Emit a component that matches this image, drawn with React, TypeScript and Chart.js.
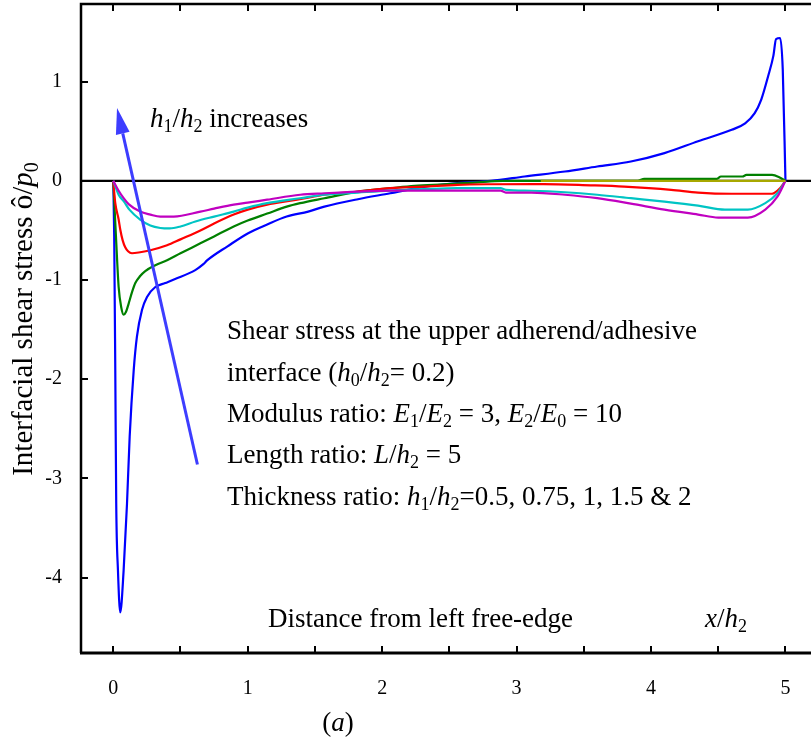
import React, { useEffect, useRef } from "react";
import { Chart, registerables } from "chart.js";

Chart.register(...registerables);

// Axis ranges (x = x/h2, y = shear stress ratio)
const X_RANGE = [-0.24, 5.19];
const Y_RANGE = [-4.76, 1.783];

// Tick values
const xTickLabels = [0, 1, 2, 3, 4, 5];
const xTickMarks = [0, 0.5, 1, 1.5, 2, 2.5, 3, 3.5, 4, 4.5, 5];
const yTickLabels = [1, 0, -1, -2, -3, -4];

// Thickness ratios h1/h2
const thicknessRatios = ["0.5", "0.75", "1", "1.5", "2"];
const seriesColors = ["#0000ff", "#008000", "#ff0000", "#00c4c4", "#c000c0"];

// Shear stress along the bond line, one list per h1/h2
const stressH050: [number, number][] = [
  [0, 0], [0.007, -0.56], [0.015, -1.91], [0.022, -3.25], [0.035, -3.93], [0.052, -4.35],
  [0.077, -3.93], [0.102, -3.26], [0.122, -2.58], [0.152, -1.91], [0.176, -1.57],
  [0.214, -1.3], [0.251, -1.17], [0.313, -1.07], [0.387, -1.03], [0.46, -0.99],
  [0.61, -0.9], [0.67, -0.84], [0.7, -0.8], [0.85, -0.66], [1.0, -0.53], [1.145, -0.44],
  [1.29, -0.36], [1.45, -0.31], [1.57, -0.26], [1.82, -0.185], [2.06, -0.125],
  [2.31, -0.06], [2.56, -0.023], [2.81, 0], [3.06, 0.044], [3.36, 0.094], [3.6, 0.145],
  [3.85, 0.195], [4.1, 0.28], [4.35, 0.4], [4.6, 0.515], [4.7, 0.58], [4.77, 0.68],
  [4.82, 0.82], [4.87, 1.05], [4.91, 1.26], [4.93, 1.43], [4.96, 1.44], [4.98, 1.12], [5.0, 0],
];
const stressH075: [number, number][] = [
  [0, 0], [0.02, -0.56], [0.04, -1.07], [0.06, -1.28], [0.077, -1.35], [0.095, -1.32],
  [0.114, -1.24], [0.14, -1.12], [0.164, -1.03], [0.2, -0.96], [0.238, -0.91],
  [0.313, -0.85], [0.4, -0.8], [0.5, -0.73], [0.648, -0.63], [0.75, -0.56], [0.896, -0.46],
  [1.0, -0.4], [1.145, -0.33], [1.29, -0.26], [1.39, -0.225], [1.57, -0.175],
  [1.82, -0.108], [2.06, -0.074], [2.24, -0.05], [2.46, -0.034], [2.68, -0.017],
  [2.9, 0], [3.9, 0], [3.95, 0.02], [4.49, 0.02], [4.52, 0.044], [4.68, 0.044],
  [4.71, 0.06], [4.9, 0.06], [4.95, 0.04], [5.0, 0],
];
const stressH100: [number, number][] = [
  [0, 0], [0.015, -0.225], [0.04, -0.39], [0.052, -0.49], [0.07, -0.6], [0.089, -0.67],
  [0.11, -0.71], [0.139, -0.73], [0.2, -0.72], [0.276, -0.7], [0.4, -0.65], [0.5, -0.59],
  [0.648, -0.5], [0.75, -0.43], [0.896, -0.34], [1.0, -0.29], [1.145, -0.24], [1.32, -0.2],
  [1.45, -0.17], [1.57, -0.14], [1.82, -0.108], [2.06, -0.074], [2.31, -0.058],
  [2.56, -0.04], [2.81, -0.034], [3.2, -0.032], [3.55, -0.045], [3.8, -0.058],
  [4.15, -0.09], [4.35, -0.118], [4.6, -0.13], [4.9, -0.13], [4.96, -0.074], [5.0, 0],
];
const stressH150: [number, number][] = [
  [0, 0], [0.04, -0.14], [0.08, -0.21], [0.12, -0.29], [0.2, -0.39], [0.276, -0.45],
  [0.35, -0.475], [0.42, -0.48], [0.5, -0.46], [0.611, -0.41], [0.75, -0.36],
  [0.896, -0.31], [1.0, -0.27], [1.145, -0.225], [1.39, -0.175], [1.57, -0.14],
  [1.82, -0.118], [2.06, -0.098], [2.31, -0.084], [2.56, -0.074], [2.88, -0.074],
  [2.92, -0.09], [3.11, -0.1], [3.36, -0.115], [3.6, -0.14], [3.85, -0.175], [4.1, -0.21],
  [4.35, -0.25], [4.55, -0.29], [4.72, -0.29], [4.85, -0.225], [4.94, -0.125], [5.0, 0],
];
const stressH200: [number, number][] = [
  [0, 0], [0.04, -0.1], [0.08, -0.18], [0.114, -0.235], [0.2, -0.31], [0.276, -0.34],
  [0.35, -0.36], [0.45, -0.36], [0.648, -0.31], [0.75, -0.28], [0.896, -0.24],
  [1.0, -0.22], [1.145, -0.19], [1.39, -0.14], [1.57, -0.125], [1.82, -0.108],
  [2.06, -0.098], [2.56, -0.098], [2.88, -0.098], [2.92, -0.118], [3.11, -0.118],
  [3.36, -0.14], [3.6, -0.175], [3.85, -0.23], [4.1, -0.29], [4.35, -0.34], [4.5, -0.37],
  [4.72, -0.37], [4.85, -0.29], [4.94, -0.16], [5.0, 0],
];
const stressSeries = [stressH050, stressH075, stressH100, stressH150, stressH200];

// Olive reference segment along zero
const oliveSegment: [number, number][] = [[3.18, 0], [5.0, 0]];

// Trend arrow, tail -> tip, in data units
const arrowTail: [number, number] = [0.626, -2.86];
const arrowTip: [number, number] = [0.028, 0.734];

const SERIF = '"Liberation Serif", "Times New Roman", serif';

type Run = { t: string; it?: boolean; sub?: boolean };

function drawRuns(
  ctx: CanvasRenderingContext2D,
  runs: Run[],
  x: number,
  y: number,
  size: number,
  align: "left" | "center" = "left"
) {
  const fontOf = (r: Run) =>
    `${r.it ? "italic " : ""}${r.sub ? Math.round(size * 0.68) : size}px ${SERIF}`;
  let total = 0;
  for (const r of runs) {
    ctx.font = fontOf(r);
    total += ctx.measureText(r.t).width;
  }
  let cx = align === "center" ? x - total / 2 : x;
  ctx.textAlign = "left";
  ctx.textBaseline = "alphabetic";
  for (const r of runs) {
    ctx.font = fontOf(r);
    ctx.fillText(r.t, cx, y + (r.sub ? size * 0.2 : 0));
    cx += ctx.measureText(r.t).width;
  }
}

// keep the plot box fixed: no extra room for edge tick labels
const zeroPadding = (s: any) => {
  s.paddingTop = 0;
  s.paddingBottom = 0;
  s.paddingLeft = 0;
  s.paddingRight = 0;
};

const framePlugin = {
  id: "paperFrame",
  beforeDatasetsDraw(chart: any) {
    const { ctx, chartArea: a, scales } = chart;
    const y0 = scales.y.getPixelForValue(0);
    ctx.save();
    ctx.strokeStyle = "#000";
    ctx.lineWidth = 2.2;
    ctx.beginPath();
    ctx.moveTo(a.left, y0);
    ctx.lineTo(a.right, y0);
    ctx.stroke();
    ctx.restore();
  },
  afterDatasetsDraw(chart: any) {
    const { ctx, chartArea: a, scales } = chart;
    const xs = scales.x;
    const ys = scales.y;
    ctx.save();
    ctx.strokeStyle = "#000";
    // frame
    ctx.lineWidth = 2.5;
    ctx.beginPath();
    ctx.moveTo(a.right, a.top);
    ctx.lineTo(a.left, a.top);
    ctx.lineTo(a.left, a.bottom);
    ctx.stroke();
    ctx.lineWidth = 3;
    ctx.beginPath();
    ctx.moveTo(a.left - 1, a.bottom);
    ctx.lineTo(a.right, a.bottom);
    ctx.stroke();
    // inward tick marks
    ctx.lineWidth = 2;
    ctx.beginPath();
    for (const v of xTickMarks) {
      const px = Math.round(xs.getPixelForValue(v));
      ctx.moveTo(px, a.bottom);
      ctx.lineTo(px, a.bottom - 7);
      ctx.moveTo(px, a.top);
      ctx.lineTo(px, a.top + 7);
    }
    for (const v of yTickLabels) {
      const py = Math.round(ys.getPixelForValue(v));
      ctx.moveTo(a.left, py);
      ctx.lineTo(a.left + 7, py);
    }
    ctx.stroke();

    // trend arrow
    const tx = xs.getPixelForValue(arrowTail[0]);
    const ty = ys.getPixelForValue(arrowTail[1]);
    const hx = xs.getPixelForValue(arrowTip[0]);
    const hy = ys.getPixelForValue(arrowTip[1]);
    const ang = Math.atan2(hy - ty, hx - tx);
    const headLen = 26;
    const headHalf = 7;
    const bx = hx - headLen * Math.cos(ang);
    const by = hy - headLen * Math.sin(ang);
    ctx.strokeStyle = "#3d3dff";
    ctx.fillStyle = "#3d3dff";
    ctx.lineWidth = 3;
    ctx.beginPath();
    ctx.moveTo(tx, ty);
    ctx.lineTo(bx, by);
    ctx.stroke();
    ctx.beginPath();
    ctx.moveTo(hx, hy);
    ctx.lineTo(bx + headHalf * Math.sin(ang), by - headHalf * Math.cos(ang));
    ctx.lineTo(bx - headHalf * Math.sin(ang), by + headHalf * Math.cos(ang));
    ctx.closePath();
    ctx.fill();
    ctx.restore();
  },
  afterDraw(chart: any) {
    const { ctx } = chart;
    ctx.save();
    ctx.fillStyle = "#000";
    const S = 27;

    drawRuns(ctx, [
      { t: "h", it: true }, { t: "1", sub: true }, { t: "/" },
      { t: "h", it: true }, { t: "2", sub: true }, { t: " increases" },
    ], 150, 127, S);

    const bx = 227;
    drawRuns(ctx, [{ t: "Shear stress at the upper adherend/adhesive" }], bx, 339, S);
    drawRuns(ctx, [
      { t: "interface (" }, { t: "h", it: true }, { t: "0", sub: true }, { t: "/" },
      { t: "h", it: true }, { t: "2", sub: true }, { t: "= 0.2)" },
    ], bx, 381, S);
    drawRuns(ctx, [
      { t: "Modulus ratio: " }, { t: "E", it: true }, { t: "1", sub: true }, { t: "/" },
      { t: "E", it: true }, { t: "2", sub: true }, { t: " = 3, " },
      { t: "E", it: true }, { t: "2", sub: true }, { t: "/" },
      { t: "E", it: true }, { t: "0", sub: true }, { t: " = 10" },
    ], bx, 422, S);
    drawRuns(ctx, [
      { t: "Length ratio: " }, { t: "L", it: true }, { t: "/" },
      { t: "h", it: true }, { t: "2", sub: true }, { t: " = 5" },
    ], bx, 463, S);
    drawRuns(ctx, [
      { t: "Thickness ratio: " }, { t: "h", it: true }, { t: "1", sub: true }, { t: "/" },
      { t: "h", it: true }, { t: "2", sub: true },
      { t: "=" + thicknessRatios.slice(0, 4).join(", ") + " & " + thicknessRatios[4] },
    ], bx, 505, S);

    drawRuns(ctx, [{ t: "Distance from left free-edge" }], 268, 627, S);
    drawRuns(ctx, [
      { t: "x", it: true }, { t: "/" }, { t: "h", it: true }, { t: "2", sub: true },
    ], 705, 627, S);
    drawRuns(ctx, [{ t: "(" }, { t: "a", it: true }, { t: ")" }], 338, 731, S, "center");

    // y-axis title
    ctx.translate(32, 319);
    ctx.rotate(-Math.PI / 2);
    drawRuns(ctx, [
      { t: "Interfacial shear stress ô/" }, { t: "p", it: true }, { t: "0", sub: true },
    ], 0, 0, 29, "center");
    ctx.restore();
  },
};

export default function App() {
  const canvasRef = useRef<HTMLCanvasElement | null>(null);

  useEffect(() => {
    const canvas = canvasRef.current;
    if (!canvas) return;

    const toPoints = (pts: [number, number][]) => pts.map(([x, y]) => ({ x, y }));

    const datasets: any[] = [
      {
        label: "olive",
        data: toPoints(oliveSegment),
        borderColor: "#a8a800",
        borderWidth: 2.4,
        pointRadius: 0,
        fill: false,
      },
    ];
    // h1/h2 = 2 drawn above 1.5 above 1 ... above 0.5
    for (let i = stressSeries.length - 1; i >= 0; i--) {
      datasets.push({
        label: "h1/h2 = " + thicknessRatios[i],
        data: toPoints(stressSeries[i]),
        borderColor: seriesColors[i],
        borderWidth: 2.2,
        pointRadius: 0,
        fill: false,
        cubicInterpolationMode: "monotone",
      });
    }

    const chart = new Chart(canvas, {
      type: "line",
      data: { datasets },
      options: {
        responsive: false,
        animation: false,
        events: [],
        layout: { padding: { left: 0, top: 4, right: 0, bottom: 0 } },
        plugins: { legend: { display: false }, tooltip: { enabled: false } },
        scales: {
          x: {
            type: "linear",
            min: X_RANGE[0],
            max: X_RANGE[1],
            grid: { display: false, drawTicks: false },
            border: { display: false },
            afterBuildTicks: (s: any) => {
              s.ticks = xTickLabels.map((v) => ({ value: v }));
            },
            afterFit: (s: any) => {
              s.height = 89;
              zeroPadding(s);
            },
            ticks: {
              color: "#000",
              padding: 24,
              maxRotation: 0,
              autoSkip: false,
              font: { family: SERIF, size: 20 },
              callback: (v: any) => String(v),
            },
          },
          y: {
            type: "linear",
            min: Y_RANGE[0],
            max: Y_RANGE[1],
            grid: { display: false, drawTicks: false },
            border: { display: false },
            afterBuildTicks: (s: any) => {
              s.ticks = yTickLabels.map((v) => ({ value: v }));
            },
            afterFit: (s: any) => {
              s.width = 81;
              zeroPadding(s);
            },
            ticks: {
              color: "#000",
              padding: 19,
              autoSkip: false,
              font: { family: SERIF, size: 20 },
              callback: (v: any) => String(v),
            },
          },
        },
      },
      plugins: [framePlugin],
    });

    return () => chart.destroy();
  }, []);

  return (
    <div style={{ position: "absolute", left: 0, top: 0, width: 811, height: 742, background: "#fff" }}>
      <canvas ref={canvasRef} width={811} height={742} style={{ display: "block" }} />
    </div>
  );
}
